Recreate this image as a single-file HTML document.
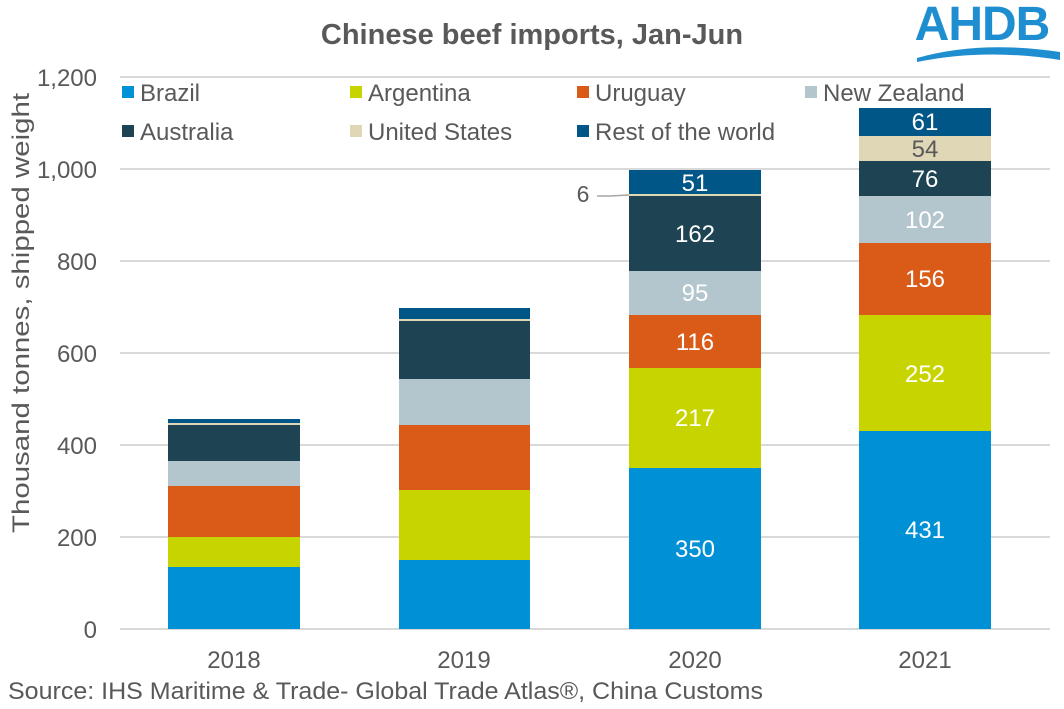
<!DOCTYPE html>
<html><head><meta charset="utf-8"><style>body{margin:0;background:#fff}svg{display:block}text{font-family:"Liberation Sans",Arial,sans-serif}</style></head><body>
<svg width="1064" height="709" viewBox="0 0 1064 709" xmlns="http://www.w3.org/2000/svg">
<rect width="1064" height="709" fill="#fff"/>
<text x="532" y="44" text-anchor="middle" font-size="29" font-weight="bold" fill="#595959">Chinese beef imports, Jan-Jun</text>
<g fill="#1e8ed1">
<text x="982" y="40" text-anchor="middle" font-size="48" font-weight="bold" fill="#1e8ed1" letter-spacing="-1">AHDB</text>
<path d="M917 58 Q980 40 1060 52 L1060 60 Q985 48 917 62 Z"/>
</g>
<g stroke="#d9d9d9" stroke-width="2">
<line x1="120" x2="1050" y1="77" y2="77"/><line x1="120" x2="1050" y1="169" y2="169"/><line x1="120" x2="1050" y1="261" y2="261"/><line x1="120" x2="1050" y1="353" y2="353"/><line x1="120" x2="1050" y1="445" y2="445"/><line x1="120" x2="1050" y1="537" y2="537"/><line x1="120" x2="1050" y1="629" y2="629"/>
</g>
<g font-size="24" fill="#595959" text-anchor="end">
<text x="97" y="86">1,200</text><text x="97" y="178">1,000</text><text x="97" y="270">800</text><text x="97" y="362">600</text><text x="97" y="454">400</text><text x="97" y="546">200</text><text x="97" y="638">0</text>
</g>
<text transform="translate(29,313) rotate(-90)" text-anchor="middle" font-size="24" fill="#595959" textLength="440" lengthAdjust="spacingAndGlyphs">Thousand tonnes, shipped weight</text>
<g font-size="24" fill="#595959" text-anchor="middle">
<text x="234" y="668">2018</text><text x="464" y="668">2019</text><text x="695" y="668">2020</text><text x="925" y="668">2021</text>
</g>
<text x="8" y="699" font-size="24" fill="#595959" textLength="755" lengthAdjust="spacingAndGlyphs">Source: IHS Maritime &amp; Trade- Global Trade Atlas®, China Customs</text>
<g>
<rect x="168" y="567" width="132" height="62" fill="#0090d6"/><rect x="168" y="537" width="132" height="30" fill="#c8d400"/><rect x="168" y="486" width="132" height="51" fill="#da5a17"/><rect x="168" y="461" width="132" height="25" fill="#b3c6cd"/><rect x="168" y="425" width="132" height="36" fill="#1e4453"/><rect x="168" y="423" width="132" height="2" fill="#e0d7b7"/><rect x="168" y="419" width="132" height="4" fill="#005686"/>
<rect x="399" y="560" width="131" height="69" fill="#0090d6"/><rect x="399" y="490" width="131" height="70" fill="#c8d400"/><rect x="399" y="425" width="131" height="65" fill="#da5a17"/><rect x="399" y="379" width="131" height="46" fill="#b3c6cd"/><rect x="399" y="321" width="131" height="58" fill="#1e4453"/><rect x="399" y="319" width="131" height="2" fill="#e0d7b7"/><rect x="399" y="308" width="131" height="11" fill="#005686"/>
<rect x="629" y="468" width="132" height="161" fill="#0090d6"/><rect x="629" y="368" width="132" height="100" fill="#c8d400"/><rect x="629" y="315" width="132" height="53" fill="#da5a17"/><rect x="629" y="271" width="132" height="44" fill="#b3c6cd"/><rect x="629" y="196" width="132" height="75" fill="#1e4453"/><rect x="629" y="194" width="132" height="2" fill="#e0d7b7"/><rect x="629" y="170" width="132" height="24" fill="#005686"/>
<rect x="859" y="431" width="132" height="198" fill="#0090d6"/><rect x="859" y="315" width="132" height="116" fill="#c8d400"/><rect x="859" y="243" width="132" height="72" fill="#da5a17"/><rect x="859" y="196" width="132" height="47" fill="#b3c6cd"/><rect x="859" y="161" width="132" height="35" fill="#1e4453"/><rect x="859" y="136" width="132" height="25" fill="#e0d7b7"/><rect x="859" y="108" width="132" height="28" fill="#005686"/>
</g>
<g font-size="24" fill="#fff" text-anchor="middle">
<text x="695" y="557">350</text><text x="695" y="426">217</text><text x="695" y="350">116</text><text x="695" y="301">95</text><text x="695" y="242">162</text><text x="695" y="191">51</text>
<text x="925" y="538">431</text><text x="925" y="382">252</text><text x="925" y="287">156</text><text x="925" y="228">102</text><text x="925" y="187">76</text><text x="925" y="157" fill="#595959">54</text><text x="925" y="130">61</text>
</g>
<text x="583" y="202" font-size="23" fill="#595959" text-anchor="middle">6</text>
<polyline points="597,196 610,196 629,195" fill="none" stroke="#a6a6a6" stroke-width="1.5"/>
<g font-size="24" fill="#595959">
<rect x="122" y="86" width="12" height="12" fill="#0090d6"/><text x="140" y="101">Brazil</text>
<rect x="350" y="86" width="12" height="12" fill="#c8d400"/><text x="368" y="101">Argentina</text>
<rect x="577" y="86" width="12" height="12" fill="#da5a17"/><text x="595" y="101">Uruguay</text>
<rect x="805" y="86" width="12" height="12" fill="#b3c6cd"/><text x="823" y="101">New Zealand</text>
<rect x="122" y="125" width="12" height="12" fill="#1e4453"/><text x="140" y="140">Australia</text>
<rect x="350" y="125" width="12" height="12" fill="#e0d7b7"/><text x="368" y="140">United States</text>
<rect x="577" y="125" width="12" height="12" fill="#005686"/><text x="595" y="140">Rest of the world</text>
</g>
</svg>
</body></html>
